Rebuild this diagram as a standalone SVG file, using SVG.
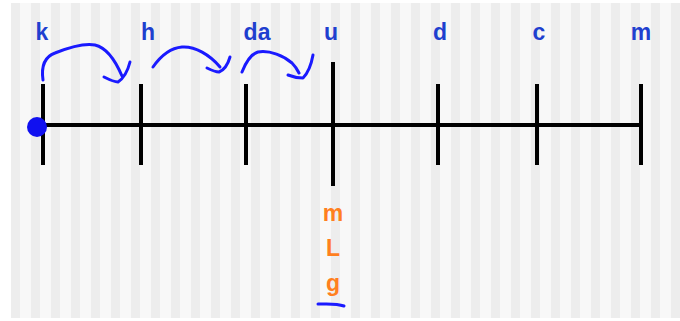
<svg xmlns="http://www.w3.org/2000/svg" width="680" height="321" viewBox="0 0 680 321">
  <defs>
    <pattern id="stripes" x="11" y="0" width="20" height="321" patternUnits="userSpaceOnUse">
      <rect width="20" height="321" fill="#f8f8f8"/>
      <rect x="0" width="9" height="321" fill="#ededed"/>
    </pattern>
    <style>
      .axis { stroke: #000; stroke-width: 4; fill: none; }
      .tick { stroke: #000; stroke-width: 4; }
      .lbl { font-family: "Liberation Sans", Arial, sans-serif; font-weight: bold; font-size: 23px; fill: #1f3fcf; text-anchor: middle; }
      .unit { font-family: "Liberation Sans", Arial, sans-serif; font-weight: bold; font-size: 23px; fill: #ff7f1e; text-anchor: middle; }
      .ink { stroke: #1a1aff; stroke-width: 3; fill: none; stroke-linecap: round; stroke-linejoin: round; }
    </style>
  </defs>

  <!-- background -->
  <rect width="680" height="321" fill="#ffffff"/>
  <rect x="11" y="3" width="669" height="315" fill="url(#stripes)"/>

  <!-- number line -->
  <g id="line">
    <line class="axis" x1="43" y1="125" x2="641" y2="125"/>
  </g>

  <g id="tick-k">
    <line class="tick" x1="43" y1="84" x2="43" y2="165"/>
    <text class="lbl" x="42" y="40">k</text>
  </g>
  <g id="tick-h">
    <line class="tick" x1="141" y1="84" x2="141" y2="165"/>
    <text class="lbl" x="148" y="40">h</text>
  </g>
  <g id="tick-da">
    <line class="tick" x1="246" y1="84" x2="246" y2="165"/>
    <text class="lbl" x="257" y="40">da</text>
  </g>
  <g id="tick-u">
    <line class="tick" x1="333" y1="62" x2="333" y2="186"/>
    <text class="lbl" x="331" y="40">u</text>
  </g>
  <g id="tick-d">
    <line class="tick" x1="438" y1="84" x2="438" y2="165"/>
    <text class="lbl" x="440" y="40">d</text>
  </g>
  <g id="tick-c">
    <line class="tick" x1="537" y1="84" x2="537" y2="165"/>
    <text class="lbl" x="539" y="40">c</text>
  </g>
  <g id="tick-m">
    <line class="tick" x1="641" y1="84" x2="641" y2="165"/>
    <text class="lbl" x="641" y="40">m</text>
  </g>

  <!-- base units under u -->
  <g id="units">
    <text class="unit" x="333" y="221">m</text>
    <text class="unit" x="333" y="256">L</text>
    <text class="unit" x="333" y="291">g</text>
  </g>

  <!-- hand-drawn marks -->
  <g id="connectors">
    <circle cx="37" cy="127" r="10" fill="#1010f0"/>
    <path class="ink" d="M43,80 C41,66 44,57 55,53 C70,47 85,43 95,45 C108,48 116,62 122,76"/>
    <path class="ink" d="M104,77 C110,80 114,82 118,82 C124,78 128,70 130,62"/>
    <path class="ink" d="M153,67 C160,57 170,48 182,47 C195,46 210,55 220,67"/>
    <path class="ink" d="M207,68 C211,70 215,72 219,72 C224,70 228,64 230,57"/>
    <path class="ink" d="M242,72 C246,62 251,54 258,52 C270,50 284,56 292,63 C296,67 298,71 299,73"/>
    <path class="ink" d="M288,75 C293,77 298,78 303,78 C307,74 311,66 313,55"/>
    <path class="ink" d="M318,304 C326,304 336,303 344,306"/>
  </g>
</svg>
